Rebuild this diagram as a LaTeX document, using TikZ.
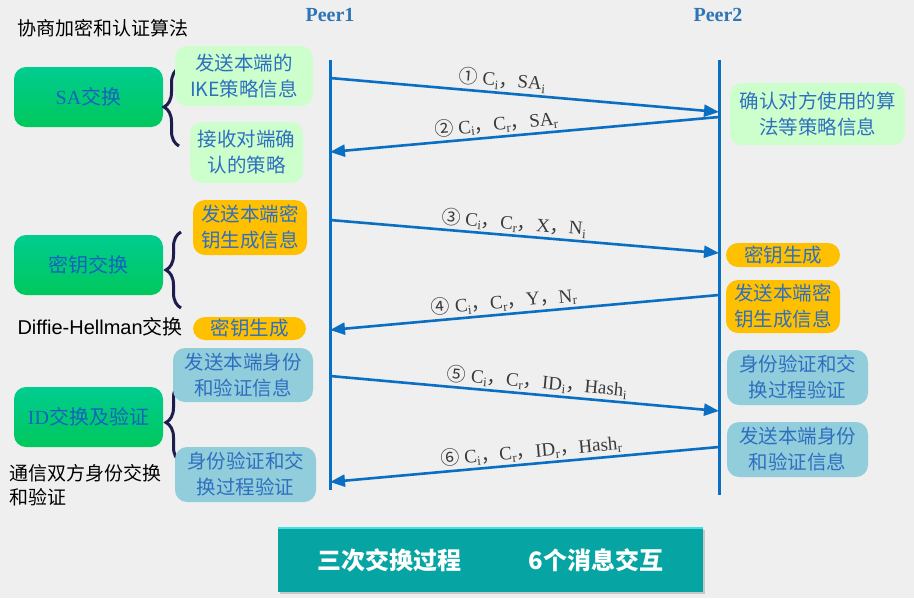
\documentclass[tikz,border=0pt]{standalone}
\usepackage{fontspec}
\setmainfont{Liberation Serif}
\setsansfont{Liberation Sans}
\newfontfamily\cjk{Noto Sans CJK SC}
\usepackage{tikz}
\usetikzlibrary{arrows.meta}
\usetikzlibrary{decorations.pathreplacing}
\usetikzlibrary{shadows}

\definecolor{bgray}{HTML}{EFEFEF}
\definecolor{lineblue}{HTML}{0A6FC2}
\definecolor{peerblue}{HTML}{2E75B6}
\definecolor{boxtxt}{HTML}{2F6FBF}
\definecolor{phasetxt}{HTML}{1762C0}
\definecolor{phasetop}{HTML}{00CC90}
\definecolor{phasebot}{HTML}{00C85C}
\definecolor{palegreen}{HTML}{CCFFCC}
\definecolor{keyorange}{HTML}{FFC000}
\definecolor{idblue}{HTML}{92CDDC}
\definecolor{navy}{HTML}{1C1C4E}
\definecolor{labgray}{HTML}{3A3A3A}
\definecolor{teal}{HTML}{07A4A4}
\definecolor{tealhi}{HTML}{3FE2E2}

\newcommand{\lsub}[1]{\raisebox{-0.35ex}{\fontsize{13}{13}\selectfont #1}}
\newcommand{\cm}{{\cjk ，}}

\begin{document}
\begin{tikzpicture}[x=1pt, y=-1pt,
        box/.style={rounded corners=12pt, align=center, inner sep=0pt, text=boxtxt,
            font=\cjk\fontsize{19.5}{26}\selectfont},
        lgreen/.style={box, fill=palegreen},
        korange/.style={box, fill=keyorange},
        sky/.style={box, fill=idblue},
        phase/.style={rounded corners=12pt, top color=phasetop, bottom color=phasebot,
            minimum width=149pt, minimum height=60pt, inner sep=0pt, text=phasetxt,
            font=\fontsize{20}{24}\selectfont},
        brc/.style={navy, line width=3pt, decorate, decoration={brace, amplitude=15pt}},
        life/.style={lineblue, line width=3pt},
        msg/.style={lineblue, line width=2.6pt, -{Triangle[length=15pt,width=12pt]}},
        lbl/.style={sloped, above, inner sep=2pt, text=labgray, font=\fontsize{19}{22}\selectfont},
        peer/.style={text=peerblue, font=\bfseries\fontsize{20}{24}\selectfont}]
    \useasboundingbox (0,0) rectangle (914,598);
    \fill[bgray] (0,0) rectangle (914,598);

    \node[anchor=west, font=\cjk\fontsize{19}{22}\selectfont] (title) at (14,28) {协商加密和认证算法};
    \node[peer] (peer1) at (330,15) {Peer1};
    \node[peer] (peer2) at (718,15) {Peer2};

    \coordinate (l1t) at (330,60);
    \coordinate (l1b) at (330,490);
    \coordinate (l2t) at (719,60);
    \coordinate (l2b) at (719,495);
    \draw[life] (l1t) -- (l1b);
    \draw[life] (l2t) -- (l2b);

    \node[phase] (sa) at (88.5,97) {SA{\cjk 交换}};
    \node[phase] (key) at (88.5,265) {\cjk 密钥交换};
    \node[phase] (id) at (88.5,417) {ID{\cjk 交换及验证}};

    \draw[brc] (179,146) -- (179,68);
    \draw[brc] (181,308) -- (181,232);
    \draw[brc] (181,462) -- (181,383);

    \node[lgreen, minimum width=138pt, minimum height=60pt] (sa1) at (244,76) {发送本端的\\IKE策略信息};
    \node[lgreen, minimum width=113pt, minimum height=61pt] (sa2) at (246.5,152.5) {接收对端确\\认的策略};
    \node[korange, minimum width=114pt, minimum height=55pt] (key1) at (250,227.5) {发送本端密\\钥生成信息};
    \node[korange, minimum width=113pt, minimum height=23pt] (key2) at (249.5,328.5) {密钥生成};
    \node[sky, minimum width=140pt, minimum height=54pt] (id1) at (243,375) {发送本端身份\\和验证信息};
    \node[sky, minimum width=141pt, minimum height=55pt] (id2) at (245.5,474.5) {身份验证和交\\换过程验证};

    \node[lgreen, minimum width=175pt, minimum height=62pt] (r1) at (817.5,114) {确认对方使用的算\\法等策略信息};
    \node[korange, minimum width=114pt, minimum height=24pt] (r2) at (783,255) {密钥生成};
    \node[korange, minimum width=114pt, minimum height=53pt] (r3) at (783,306.5) {发送本端密\\钥生成信息};
    \node[sky, minimum width=141pt, minimum height=55pt] (r4) at (797.5,377.5) {身份验证和交\\换过程验证};
    \node[sky, minimum width=141pt, minimum height=55pt] (r5) at (797.5,449.5) {发送本端身份\\和验证信息};

    \node[anchor=west, font=\sffamily\fontsize{20}{22}\selectfont] (dh) at (14,327) {Diffie-Hellman{\cjk 交换}};
    \node[anchor=north west, align=left, inner sep=0pt, font=\cjk\fontsize{19}{24}\selectfont] (both) at (9,464)
        {通信双方身份交换\\和验证};

    \foreach \k/\ya/\yb in {1/78/112, 2/152/117, 3/220/253, 4/330/295, 5/376/411, 6/482/447} {
        \coordinate (a\k) at (330,\ya);
        \coordinate (b\k) at (719,\yb);
    }
    \draw[msg] (a1) -- (b1) node[lbl, pos=0.44] {{\cjk ①} C\lsub{i}\cm SA\lsub{i}};
    \draw[msg] (b2) -- (a2) node[lbl, pos=0.57] {{\cjk ②} C\lsub{i}\cm C\lsub{r}\cm SA\lsub{r}};
    \draw[msg] (a3) -- (b3) node[lbl, pos=0.47] {{\cjk ③} C\lsub{i}\cm C\lsub{r}\cm X\cm N\lsub{i}};
    \draw[msg] (b4) -- (a4) node[lbl, pos=0.55] {{\cjk ④} C\lsub{i}\cm C\lsub{r}\cm Y\cm N\lsub{r}};
    \draw[msg] (a5) -- (b5) node[lbl, pos=0.53] {{\cjk ⑤} C\lsub{i}\cm C\lsub{r}\cm ID\lsub{i}\cm Hash\lsub{i}};
    \draw[msg] (b6) -- (a6) node[lbl, pos=0.48] {{\cjk ⑥} C\lsub{i}\cm C\lsub{r}\cm ID\lsub{r}\cm Hash\lsub{r}};

    \node[fill=teal, minimum width=425pt, minimum height=64pt, inner sep=0pt, text=white,
        drop shadow={opacity=0.35, shadow xshift=2pt, shadow yshift=-2pt},
        font=\cjk\bfseries\fontsize{24}{28}\selectfont] (bar) at (490.5,560)
        {三次交换过程\hspace{67pt}6个消息交互};
    \draw[tealhi, line width=2pt] (bar.north west) -- (bar.north east);
\end{tikzpicture}
\end{document}
